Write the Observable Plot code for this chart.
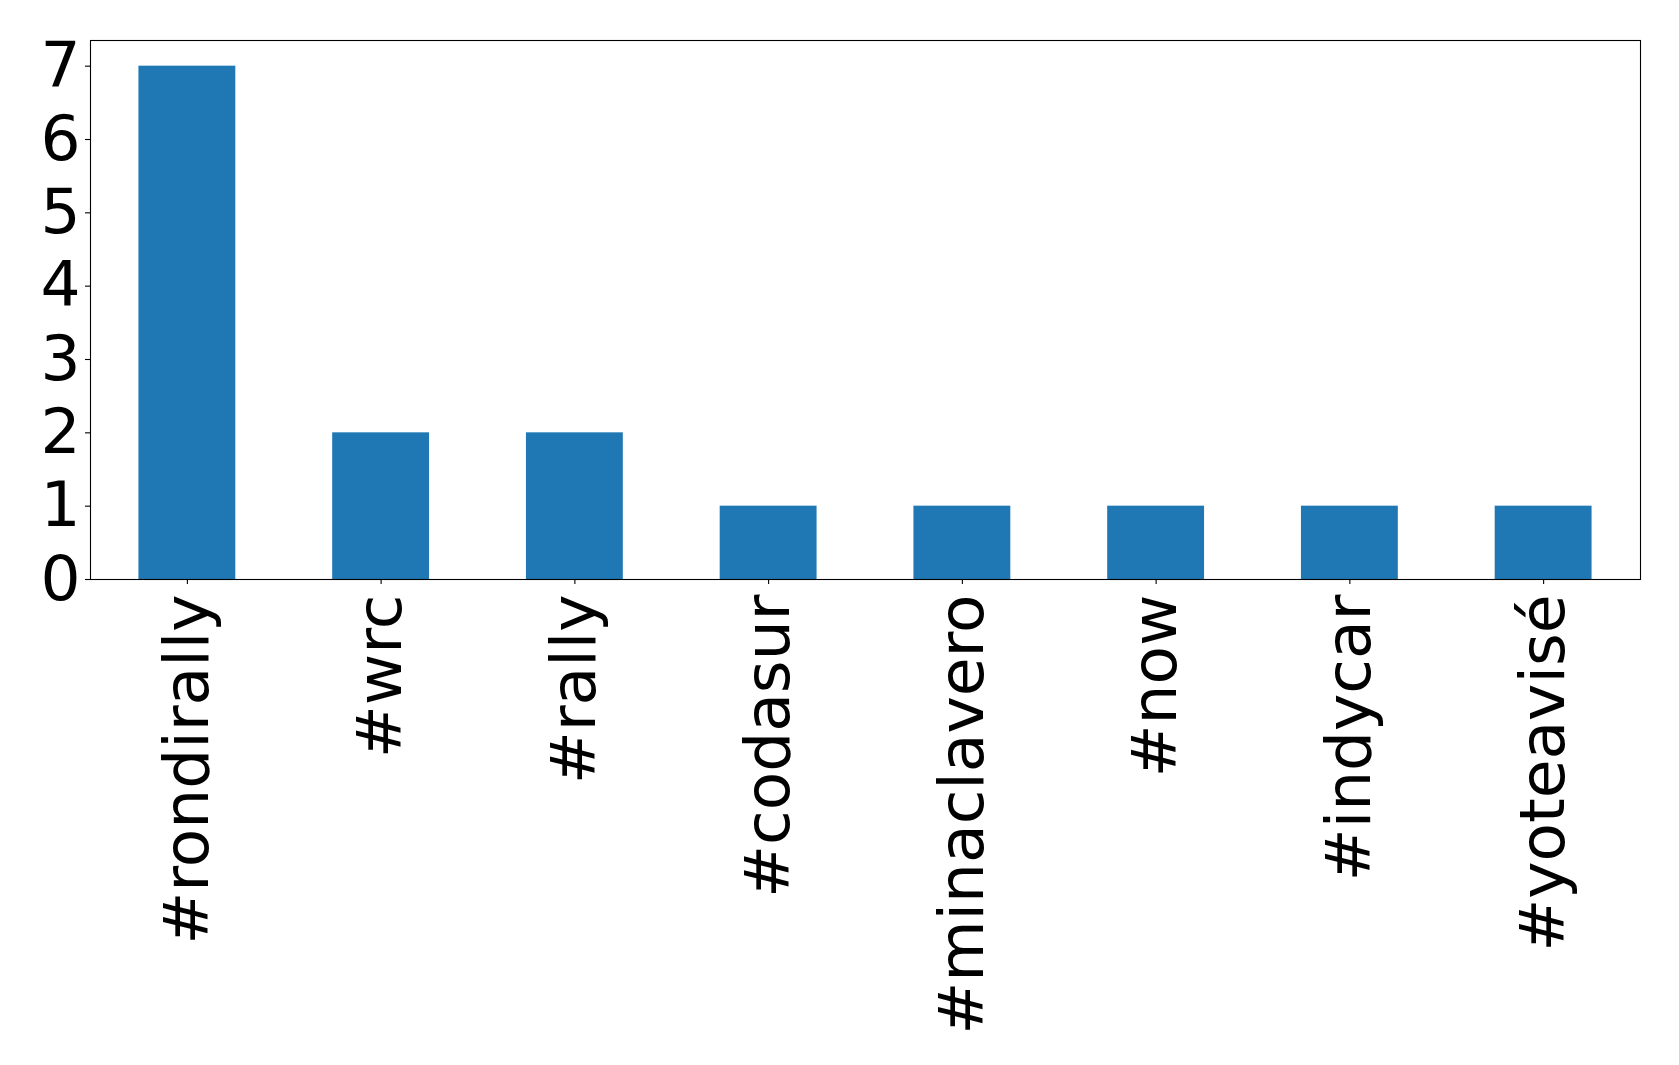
<!DOCTYPE html>
<html>
<head>
<meta charset="utf-8">
<script src="https://cdn.jsdelivr.net/npm/d3@7"></script>
<script src="https://cdn.jsdelivr.net/npm/@observablehq/plot@0.6"></script>
<style>
  html, body { margin: 0; padding: 0; background: #fff; }
  svg { display: block; }
</style>
</head>
<body>
<div id="chart"></div>
<script>
const hashtags = ["#rondirally", "#wrc", "#rally", "#codasur", "#minaclavero", "#now", "#indycar", "#yoteavisé"];
const counts = [7, 2, 2, 1, 1, 1, 1, 1];
const yTicks = [0, 1, 2, 3, 4, 5, 6, 7];

const data = hashtags.map((h, i) => ({tag: h, count: counts[i]}));

const chart = Plot.plot({
  width: 1679,
  height: 1065,
  marginTop: 40,
  marginLeft: 90,
  marginRight: 39,
  marginBottom: 486,
  style: {fontFamily: "DejaVu Sans", background: "#fff", color: "#000"},
  x: {domain: hashtags, paddingInner: 0.5, paddingOuter: 0.25, round: false, label: null},
  y: {domain: [0, 7.35], label: null},
  marks: [
    Plot.barY(data, {x: "tag", y: "count", fill: "#1f77b4"}),
    Plot.axisY({ticks: yTicks, tickFormat: d => String(d), tickSize: 5, tickPadding: 5, fontSize: 63, label: null, strokeWidth: 1.1}),
    Plot.axisX({tickRotate: -90, tickSize: 5, tickPadding: 10, fontSize: 63, label: null, strokeWidth: 1.1}),
    Plot.frame({stroke: "#000", strokeWidth: 1.1})
  ]
});
document.getElementById("chart").appendChild(chart);
</script>
</body>
</html>
